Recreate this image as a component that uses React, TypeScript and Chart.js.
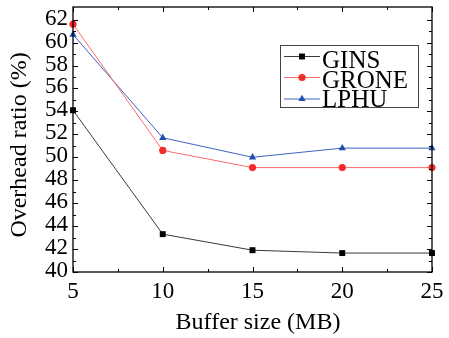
import React, { useEffect, useRef } from 'react';
import { Chart, registerables } from 'chart.js';

Chart.register(...registerables);

const BUFFER_SIZES = [5, 10, 15, 20, 25];
const GINS = [54.1, 43.3, 41.9, 41.65, 41.65];
const GRONE = [61.6, 50.6, 49.1, 49.1, 49.1];
const LPHU = [60.7, 51.7, 50.0, 50.8, 50.8];
const SERIES_NAMES = ['GINS', 'GRONE', 'LPHU'];
const X_TICKS = [5, 10, 15, 20, 25];
const X_MINOR = [7.5, 12.5, 17.5, 22.5];
const Y_TICKS = [40, 42, 44, 46, 48, 50, 52, 54, 56, 58, 60, 62];
const Y_MINOR = [41, 43, 45, 47, 49, 51, 53, 55, 57, 59, 61];
const X_TITLE = 'Buffer size (MB)';
const Y_TITLE = 'Overhead ratio (%)';

const FONT = "'Liberation Serif', serif";
Chart.defaults.font.family = FONT;

function drawMarker(ctx: CanvasRenderingContext2D, style: string, x: number, y: number, r: number, color: string) {
  ctx.save();
  ctx.fillStyle = color;
  ctx.beginPath();
  if (style === 'rect') {
    const s = Math.SQRT1_2 * r;
    ctx.rect(x - s, y - s, 2 * s, 2 * s);
  } else if (style === 'circle') {
    ctx.arc(x, y, r, 0, Math.PI * 2);
  } else if (style === 'triangle') {
    let rad = 0;
    ctx.moveTo(x + Math.sin(rad) * r, y - Math.cos(rad) * r);
    rad += (2 * Math.PI) / 3;
    ctx.lineTo(x + Math.sin(rad) * r, y - Math.cos(rad) * r);
    rad += (2 * Math.PI) / 3;
    ctx.lineTo(x + Math.sin(rad) * r, y - Math.cos(rad) * r);
    ctx.closePath();
  }
  ctx.fill();
  ctx.restore();
}

const framePlugin = {
  id: 'frame',
  afterDraw(chart: any) {
    const ctx: CanvasRenderingContext2D = chart.ctx;
    const { left, right, top, bottom } = chart.chartArea;
    const xs = chart.scales.x;
    const ys = chart.scales.y;
    ctx.save();
    ctx.strokeStyle = '#000';
    ctx.lineWidth = 1.3;
    ctx.strokeRect(left, top, right - left, bottom - top);
    ctx.lineWidth = 1;
    ctx.beginPath();
    const major = 5;
    const minor = 3;
    X_TICKS.forEach((v) => {
      const px = Math.round(xs.getPixelForValue(v)) + 0.5;
      ctx.moveTo(px, bottom); ctx.lineTo(px, bottom - major);
      ctx.moveTo(px, top); ctx.lineTo(px, top + major);
    });
    X_MINOR.forEach((v) => {
      const px = Math.round(xs.getPixelForValue(v)) + 0.5;
      ctx.moveTo(px, bottom); ctx.lineTo(px, bottom - minor);
      ctx.moveTo(px, top); ctx.lineTo(px, top + minor);
    });
    Y_TICKS.forEach((v) => {
      const py = Math.round(ys.getPixelForValue(v)) + 0.5;
      ctx.moveTo(left, py); ctx.lineTo(left + major, py);
      ctx.moveTo(right, py); ctx.lineTo(right - major, py);
    });
    Y_MINOR.forEach((v) => {
      const py = Math.round(ys.getPixelForValue(v)) + 0.5;
      ctx.moveTo(left, py); ctx.lineTo(left + minor, py);
      ctx.moveTo(right, py); ctx.lineTo(right - minor, py);
    });
    ctx.stroke();

    // tick labels
    ctx.fillStyle = '#000';
    ctx.font = `23px ${FONT}`;
    ctx.textAlign = 'center';
    ctx.textBaseline = 'alphabetic';
    X_TICKS.forEach((v) => {
      ctx.fillText(String(v), xs.getPixelForValue(v), bottom + 26);
    });
    ctx.textAlign = 'right';
    ctx.textBaseline = 'middle';
    Y_TICKS.forEach((v) => {
      ctx.fillText(String(v), left - 5, ys.getPixelForValue(v) - 1);
    });

    // axis titles
    ctx.font = `24px ${FONT}`;
    ctx.textAlign = 'center';
    ctx.textBaseline = 'alphabetic';
    ctx.fillText(X_TITLE, 258, 329);
    ctx.save();
    ctx.translate(26, 145);
    ctx.rotate(-Math.PI / 2);
    ctx.fillText(Y_TITLE, 0, 0);
    ctx.restore();

    // legend
    const bx = 280, by = 45, bw = 138, bh = 62;
    ctx.strokeStyle = '#444';
    ctx.lineWidth = 1;
    ctx.strokeRect(bx + 0.5, by + 0.5, bw, bh);
    const lineYs = [56.5, 77.5, 99];
    const textYs = [68, 88, 107];
    chart.data.datasets.forEach((ds: any, i: number) => {
      const ly = lineYs[i];
      ctx.strokeStyle = ds.borderColor;
      ctx.lineWidth = 1;
      ctx.beginPath();
      ctx.moveTo(284, ly);
      ctx.lineTo(320, ly);
      ctx.stroke();
      drawMarker(ctx, ds.pointStyle, 302, ly, ds.pointRadius, ds.pointBackgroundColor);
      ctx.fillStyle = '#000';
      ctx.font = `25px ${FONT}`;
      ctx.textAlign = 'left';
      ctx.textBaseline = 'alphabetic';
      ctx.fillText(ds.label, 322, textYs[i]);
    });
    ctx.restore();
  },
};

export default function App() {
  const ref = useRef<HTMLCanvasElement | null>(null);
  useEffect(() => {
    if (!ref.current) return;
    const toPts = (arr: number[]) => BUFFER_SIZES.map((x, i) => ({ x, y: arr[i] }));
    const chart = new Chart(ref.current, {
      type: 'line',
      data: {
        datasets: [
          {
            label: SERIES_NAMES[0], data: toPts(GINS), borderColor: '#3a3a3a', borderWidth: 1,
            pointStyle: 'rect', pointRadius: 4.2, pointBackgroundColor: '#000', pointBorderWidth: 0,
            clip: false as any,
          },
          {
            label: SERIES_NAMES[1], data: toPts(GRONE), borderColor: '#ff6a6a', borderWidth: 1,
            pointStyle: 'circle', pointRadius: 3.6, pointBackgroundColor: '#f52a2a', pointBorderWidth: 0,
            clip: false as any,
          },
          {
            label: SERIES_NAMES[2], data: toPts(LPHU), borderColor: '#3d63c0', borderWidth: 1,
            pointStyle: 'triangle', pointRadius: 4.2, pointBackgroundColor: '#1f4fae', pointBorderWidth: 0,
            clip: false as any,
          },
        ],
      },
      options: {
        animation: false,
        responsive: false,
        layout: { padding: { left: 0, top: 7, right: 17, bottom: 0 } },
        plugins: { legend: { display: false }, tooltip: { enabled: false } },
        scales: {
          x: {
            type: 'linear', min: 5, max: 25,
            grid: { display: false, drawTicks: false },
            border: { display: false },
            afterBuildTicks: (s: any) => { s.ticks = X_TICKS.map((v) => ({ value: v })); },
            afterFit: (s: any) => { s.height = 66; },
            ticks: { display: false },
          },
          y: {
            type: 'linear', min: 40, max: 63.1,
            grid: { display: false, drawTicks: false },
            border: { display: false },
            afterBuildTicks: (s: any) => { s.ticks = Y_TICKS.map((v) => ({ value: v })); },
            afterFit: (s: any) => { s.width = 73; },
            ticks: { display: false },
          },
        },
      },
      plugins: [framePlugin],
    } as any);
    return () => chart.destroy();
  }, []);
  return (
    <div style={{ position: 'fixed', left: 0, top: 0, width: 449, height: 338, background: '#fff' }}>
      <canvas ref={ref} width={449} height={338} style={{ display: 'block' }} />
    </div>
  );
}
